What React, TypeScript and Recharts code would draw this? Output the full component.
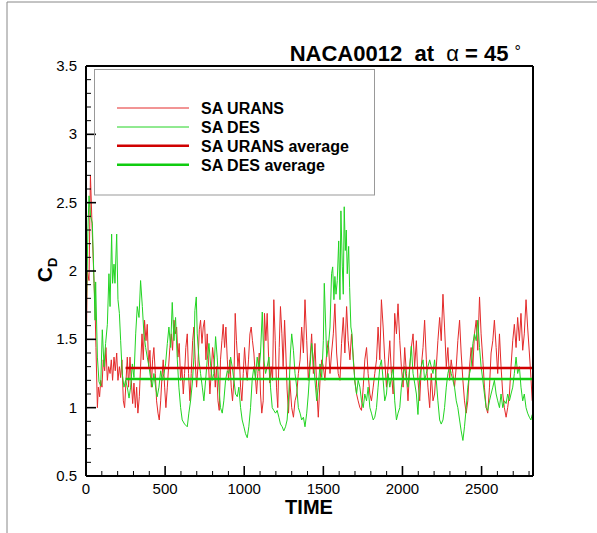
import React from 'react';
import { LineChart, Line, XAxis, YAxis } from 'recharts';

const uransTime = [0,8,19,28,40,51,57,63,72,78,86,93,101,109,118,126,135,143,152,160,168,177,185,194,202,211,219,227,236,244,253,261,269,278,286,295,303,312,320,328,337,345,354,362,370,379,387,396,404,413,421,429,438,446,455,463,472,480,488,497,505,514,522,530,539,547,556,564,573,581,589,598,606,615,623,631,640,648,657,665,674,682,690,699,707,716,724,733,741,749,758,766,775,783,791,800,808,817,825,834,842,850,859,867,876,884,893,901,909,918,926,935,943,951,960,968,977,985,994,1002,1010,1019,1027,1036,1044,1052,1061,1069,1078,1086,1095,1103,1111,1120,1128,1137,1145,1153,1162,1170,1179,1187,1196,1204,1212,1221,1229,1238,1246,1255,1263,1271,1280,1288,1300,1311,1321,1332,1342,1353,1363,1374,1384,1395,1405,1416,1426,1437,1447,1458,1468,1479,1490,1500,1510,1521,1531,1542,1552,1563,1573,1584,1594,1605,1615,1626,1636,1647,1657,1668,1678,1689,1699,1710,1720,1731,1741,1752,1762,1773,1783,1794,1804,1815,1825,1836,1846,1857,1867,1878,1888,1899,1909,1920,1930,1941,1951,1962,1972,1983,1993,2004,2014,2025,2035,2046,2056,2067,2077,2088,2098,2109,2119,2130,2140,2151,2161,2172,2182,2193,2203,2214,2224,2235,2245,2256,2266,2277,2287,2298,2308,2319,2329,2340,2350,2361,2371,2382,2392,2403,2413,2424,2434,2445,2455,2466,2476,2487,2497,2508,2518,2529,2539,2550,2560,2571,2581,2592,2602,2613,2623,2634,2644,2655,2665,2676,2686,2697,2707,2718,2728,2739,2749,2760,2770,2781,2791,2802,2812,2820];
const uransCd = [1.25,2.00,1.93,2.70,2.27,1.91,1.74,1.44,1.00,1.15,1.08,1.20,1.15,1.35,1.27,1.44,1.20,1.30,1.25,1.35,1.20,1.37,1.27,1.40,1.20,1.30,1.22,1.35,1.05,1.00,1.20,1.37,1.15,1.37,1.20,1.03,1.18,1.00,1.15,0.96,1.08,1.30,1.54,1.35,1.64,1.49,1.61,1.30,1.42,1.15,1.35,1.44,1.25,1.05,0.96,0.91,1.05,1.22,1.35,1.15,1.00,1.15,1.30,1.44,1.54,1.42,1.64,1.54,1.59,1.37,1.47,1.20,1.30,1.10,1.25,1.44,1.54,1.25,1.05,1.25,1.49,1.59,1.35,1.15,1.30,1.57,1.64,1.47,1.59,1.64,1.35,1.54,1.30,1.10,1.25,1.44,1.35,1.15,1.30,1.05,0.98,1.35,1.49,1.61,1.44,1.59,1.35,1.20,1.35,1.15,1.05,1.20,1.69,1.49,1.30,1.40,1.15,1.05,1.25,1.44,1.30,1.20,1.35,1.54,1.59,1.49,1.40,1.25,1.10,1.25,1.40,1.10,0.96,1.05,1.69,1.49,1.69,1.40,1.18,1.30,1.20,1.79,1.49,1.15,1.00,1.44,1.74,1.54,1.30,1.64,1.40,1.13,0.96,1.20,1.00,0.93,1.05,1.10,1.25,1.35,1.59,1.40,1.79,1.49,1.20,1.35,1.54,1.25,1.47,1.15,0.93,1.20,1.35,1.30,1.20,1.40,1.49,1.25,1.40,1.54,1.76,1.40,1.25,1.20,1.47,1.66,1.40,1.74,1.49,1.35,1.54,1.37,1.20,1.10,1.05,1.00,0.98,1.15,1.35,1.44,1.25,1.10,1.05,1.15,1.25,1.35,1.59,1.35,1.79,1.59,1.35,1.15,1.30,1.49,1.25,1.10,1.69,1.54,1.76,1.49,1.30,1.15,1.44,1.25,1.05,1.30,1.44,1.54,1.30,1.49,1.20,1.05,1.30,1.44,1.64,1.35,1.15,1.00,1.25,1.05,1.10,1.30,1.49,1.66,1.49,1.83,1.59,1.30,1.44,1.20,1.35,1.25,1.15,1.30,1.49,1.64,1.40,1.20,1.05,0.96,1.05,1.30,1.44,1.30,1.54,1.64,1.42,1.81,1.54,1.35,1.15,1.00,0.96,1.15,1.40,1.49,1.64,1.44,1.25,1.54,1.30,1.10,1.00,0.93,1.00,1.10,1.30,1.49,1.61,1.44,1.66,1.49,1.69,1.42,1.54,1.79,1.59,1.40,1.22,1.05];

const desTime = [0,4,12,19,29,40,51,57,61,72,82,93,103,114,124,135,145,152,162,168,177,183,194,202,211,219,229,240,250,261,272,282,293,303,314,324,335,345,356,366,377,387,398,408,419,429,440,450,461,472,482,493,503,514,524,535,545,556,566,577,587,598,608,623,640,650,661,672,682,688,697,703,714,724,735,745,756,766,777,787,798,808,819,829,840,850,861,871,882,893,903,914,924,935,945,956,966,977,987,998,1008,1019,1029,1040,1050,1061,1071,1082,1093,1103,1114,1124,1135,1145,1156,1166,1177,1187,1198,1208,1219,1229,1240,1250,1261,1271,1282,1292,1300,1311,1321,1332,1342,1353,1363,1374,1384,1395,1405,1416,1426,1437,1447,1458,1468,1479,1490,1500,1506,1515,1521,1531,1542,1552,1559,1567,1573,1580,1588,1597,1605,1611,1620,1626,1632,1639,1645,1651,1660,1666,1674,1681,1689,1700,1710,1720,1731,1741,1752,1762,1773,1783,1794,1804,1815,1825,1836,1846,1857,1867,1878,1888,1899,1909,1920,1930,1941,1951,1962,1972,1983,1993,2004,2014,2025,2035,2046,2056,2067,2077,2088,2098,2109,2119,2130,2140,2151,2161,2172,2182,2193,2203,2214,2224,2235,2245,2256,2266,2277,2287,2298,2308,2319,2329,2340,2350,2361,2371,2382,2392,2403,2413,2424,2434,2445,2455,2466,2476,2487,2497,2508,2518,2529,2539,2550,2560,2571,2581,2592,2602,2613,2623,2634,2644,2655,2665,2676,2686,2697,2707,2718,2728,2739,2749,2760,2770,2781,2791,2802,2812,2820];
const desCd = [1.30,1.80,2.30,2.55,2.40,2.35,1.91,1.64,1.92,1.37,1.19,1.16,1.57,1.30,1.47,1.61,1.98,1.74,2.27,1.91,2.05,1.91,2.27,1.79,1.69,1.49,1.25,1.15,1.20,1.15,1.07,1.15,1.32,1.22,1.54,1.74,1.66,1.93,1.74,1.54,1.44,1.37,1.30,1.22,1.15,1.25,1.15,1.08,1.15,1.27,1.20,1.25,1.32,1.47,1.59,1.44,1.77,1.49,1.66,1.35,1.15,1.00,0.91,0.88,0.86,0.96,1.05,1.18,1.37,1.71,1.81,1.54,1.35,1.25,1.15,1.05,1.20,1.35,1.47,1.32,1.20,1.25,1.52,1.37,1.15,1.00,0.96,1.05,1.20,1.27,1.25,1.37,1.30,1.20,1.10,1.08,1.15,1.00,0.91,0.86,0.81,0.78,0.86,1.00,1.20,1.30,1.22,1.37,1.27,1.40,1.70,1.35,1.25,1.30,1.37,1.15,1.00,0.98,0.96,0.98,0.93,0.88,0.86,0.83,0.86,0.91,1.10,1.40,1.54,1.42,1.25,1.15,1.00,0.96,0.91,0.93,0.86,0.96,1.10,1.30,1.47,1.35,1.20,1.05,1.15,1.32,1.22,1.49,1.91,1.59,1.37,1.44,1.59,1.98,2.03,1.79,1.96,1.83,1.93,2.22,1.79,2.44,2.03,1.83,2.47,2.15,2.30,1.98,2.18,1.88,1.59,1.54,1.35,1.18,1.10,1.20,1.15,1.05,1.00,1.10,1.05,1.15,1.00,0.96,0.91,0.93,1.00,1.15,1.30,1.35,1.20,1.05,1.10,1.25,1.15,1.22,1.30,1.05,0.91,0.96,1.00,1.15,1.25,1.30,1.20,1.15,1.30,1.45,1.25,1.18,1.10,0.95,1.22,1.30,1.35,1.20,1.25,1.30,1.35,1.30,1.25,1.35,1.20,1.05,0.91,0.88,0.91,1.00,1.15,1.25,1.30,1.25,1.20,1.15,1.05,1.00,0.91,0.83,0.76,0.86,1.00,1.15,1.25,1.30,1.47,1.54,1.49,1.64,1.44,1.30,1.20,1.10,1.00,0.98,1.05,1.10,1.15,1.20,1.10,1.05,1.00,1.10,1.00,1.05,1.03,1.10,1.05,1.10,1.15,1.25,1.37,1.25,1.30,1.15,1.05,1.10,1.00,0.96,0.93,0.91,0.95];

const avgTime = [250, 2820];
const uransAvg = [1.29, 1.29];
const desAvg = [1.21, 1.21];

const xTicks = [0,100,200,300,400,500,600,700,800,900,1000,1100,1200,1300,1400,1500,1600,1700,1800,1900,2000,2100,2200,2300,2400,2500,2600,2700,2800];
const yTicks = [0.5,0.6,0.7,0.8,0.9,1.0,1.1,1.2,1.3,1.4,1.5,1.6,1.7,1.8,1.9,2.0,2.1,2.2,2.3,2.4,2.5,2.6,2.7,2.8,2.9,3.0,3.1,3.2,3.3,3.4,3.5];

const seriesNames = ['SA URANS', 'SA DES', 'SA URANS average', 'SA DES average'];
const title = 'NACA0012  at  ';
const xTitle = 'TIME';

const zip = (ts: number[], vs: number[]) => ts.map((t, i) => ({ t, cd: vs[i] }));
const uransData = zip(uransTime, uransCd);
const desData = zip(desTime, desCd);
const uransAvgData = zip(avgTime, uransAvg);
const desAvgData = zip(avgTime, desAvg);

const FONT = '"Liberation Sans", Arial, Helvetica, sans-serif';
const RED = '#e42a2a';
const GREEN = '#22d422';
const RED_AVG = '#d00000';
const GREEN_AVG = '#10cc10';

const isMajorX = (v: number) => v % 500 === 0;
const isMajorY = (v: number) => Math.abs(v * 2 - Math.round(v * 2)) < 1e-6;

const XTick = (props: any) => {
  const { x, y, payload } = props;
  const v = payload.value;
  const major = isMajorX(v);
  return (
    <g>
      <line x1={x} x2={x} y1={y} y2={y - (major ? 10 : 5)} stroke="#000" strokeWidth={major ? 1.6 : 1} />
      {major && (
        <text x={x} y={y + 18} textAnchor="middle" fontFamily={FONT} fontSize={15} fill="#000">{String(v)}</text>
      )}
    </g>
  );
};

const YTickLeft = (props: any) => {
  const { x, y, payload } = props;
  const v = payload.value;
  const major = isMajorY(v);
  return (
    <g>
      <line x1={x} x2={x + (major ? 10 : 5)} y1={y} y2={y} stroke="#000" strokeWidth={major ? 1.6 : 1} />
      {major && (
        <text x={x - 9} y={y + 5} textAnchor="end" fontFamily={FONT} fontSize={15} fill="#000">{String(Math.round(v * 10) / 10)}</text>
      )}
    </g>
  );
};

const YTickRight = (props: any) => {
  const { x, y, payload } = props;
  const v = payload.value;
  const major = isMajorY(v);
  return (
    <g>
      <line x1={x} x2={x - (major ? 10 : 5)} y1={y} y2={y} stroke="#000" strokeWidth={major ? 1.6 : 1} />
    </g>
  );
};

export default function App() {
  const legendRows = [
    { name: seriesNames[0], color: RED, w: 1, y: 108 },
    { name: seriesNames[1], color: GREEN, w: 1, y: 127 },
    { name: seriesNames[2], color: RED_AVG, w: 2.5, y: 145.7 },
    { name: seriesNames[3], color: GREEN_AVG, w: 2.5, y: 164.8 },
  ];
  return (
    <div style={{ position: 'absolute', left: 0, top: 0, width: 597, height: 533, background: '#fff' }}>
      <LineChart width={597} height={533} margin={{ top: 56, right: 54, bottom: 27, left: 46 }}>
        <XAxis
          type="number"
          dataKey="t"
          domain={[0, 2825]}
          ticks={xTicks}
          interval={0}
          allowDataOverflow
          tickSize={0}
          tickMargin={0}
          tickLine={false}
          tick={<XTick />}
          axisLine={{ stroke: '#000', strokeWidth: 2 }}
          height={30}
        />
        <XAxis
          xAxisId="top"
          orientation="top"
          type="number"
          dataKey="t"
          domain={[0, 2825]}
          tick={false}
          tickLine={false}
          axisLine={{ stroke: '#000', strokeWidth: 2 }}
          height={10}
        />
        <YAxis
          yAxisId="left"
          type="number"
          domain={[0.5, 3.5]}
          ticks={yTicks}
          interval={0}
          allowDataOverflow
          tickSize={0}
          tickMargin={0}
          tickLine={false}
          tick={<YTickLeft />}
          axisLine={{ stroke: '#000', strokeWidth: 2 }}
          width={40}
        />
        <YAxis
          yAxisId="right"
          orientation="right"
          type="number"
          domain={[0.5, 3.5]}
          ticks={yTicks}
          interval={0}
          tickSize={0}
          tickMargin={0}
          tickLine={false}
          tick={<YTickRight />}
          axisLine={{ stroke: '#000', strokeWidth: 2 }}
          width={10}
        />
        <Line yAxisId="left" data={uransData} dataKey="cd" type="linear" stroke={RED} strokeWidth={1} dot={false} isAnimationActive={false} />
        <Line yAxisId="left" data={desData} dataKey="cd" type="linear" stroke={GREEN} strokeWidth={1} dot={false} isAnimationActive={false} />
        <Line yAxisId="left" data={uransAvgData} dataKey="cd" type="linear" stroke={RED_AVG} strokeWidth={2.5} dot={false} isAnimationActive={false} />
        <Line yAxisId="left" data={desAvgData} dataKey="cd" type="linear" stroke={GREEN_AVG} strokeWidth={2.5} dot={false} isAnimationActive={false} />
      </LineChart>
      <svg width={597} height={533} style={{ position: 'absolute', left: 0, top: 0, pointerEvents: 'none' }}>
        <line x1={7} y1={2} x2={597} y2={2} stroke="#888" strokeWidth={1} />
        <line x1={7} y1={2} x2={7} y2={533} stroke="#888" strokeWidth={1} />
        <text x={521} y={61} textAnchor="end" fontFamily={FONT} fontSize={22} fill="#000" style={{ whiteSpace: 'pre' }}>
          <tspan fontWeight="bold">{title}</tspan>
          <tspan>α</tspan>
          <tspan fontWeight="bold">{' = 45 '}</tspan>
          <tspan fontSize={16} dy={-4}>°</tspan>
        </text>
        <text x={309} y={514} textAnchor="middle" fontFamily={FONT} fontSize={20} fontWeight="bold" fill="#000">{xTitle}</text>
        <text transform="rotate(-90)" x={-270} y={52} textAnchor="middle" fontFamily={FONT} fontWeight="bold" fill="#000">
          <tspan fontSize={21}>C</tspan>
          <tspan fontSize={13} dy={5}>D</tspan>
        </text>
        <rect x={94.5} y={69.5} width={280} height={125.5} fill="none" stroke="#999" strokeWidth={1} />
        {legendRows.map((r) => (
          <g key={r.name}>
            <line x1={117} x2={189} y1={r.y} y2={r.y} stroke={r.color} strokeWidth={r.w} />
            <text x={201} y={Math.round(r.y) + 5.5} fontFamily={FONT} fontSize={16} fontWeight="bold" fill="#000">{r.name}</text>
          </g>
        ))}
      </svg>
    </div>
  );
}
